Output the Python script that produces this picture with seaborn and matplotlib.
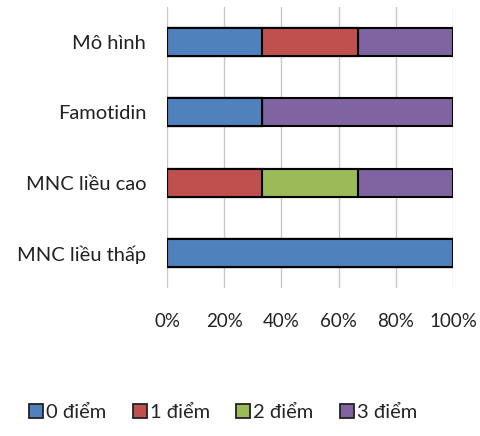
import matplotlib
matplotlib.use("Agg")
import matplotlib.pyplot as plt
import seaborn as sns
import pandas as pd
import numpy as np
from matplotlib.patches import Patch

groups = ["Mô hình", "Famotidin", "MNC liều cao", "MNC liều thấp"]
series = ["0 điểm", "1 điểm", "2 điểm", "3 điểm"]
score0 = [33.33, 33.33, 0.0, 100.0]
score1 = [33.33, 0.0, 33.33, 0.0]
score2 = [0.0, 0.0, 33.33, 0.0]
score3 = [33.34, 66.67, 33.34, 0.0]
colors = ["#4F81BD", "#C0504D", "#9BBB59", "#8064A2"]
xticklabels = ["0%", "20%", "40%", "60%", "80%", "100%"]

sns.set_theme(style="white")
plt.rcParams["font.family"] = ["Lato", "DejaVu Sans"]

fig = plt.figure(figsize=(4.8, 4.36), dpi=100)
ax = fig.add_axes([0.348, 0.339, 0.596, 0.645])

vals = np.array([score0, score1, score2, score3])
cum = np.cumsum(vals, axis=0)

# draw cumulative totals from the last segment back to the first so they stack
for i in range(len(series) - 1, -1, -1):
    df = pd.DataFrame({"group": groups, "value": cum[i]})
    sns.barplot(data=df, y="group", x="value", orient="h", color=colors[i],
                width=0.4, edgecolor="black", linewidth=1.5, saturation=1,
                ax=ax, zorder=3)

ax.set_xlim(0, 100)
ax.set_ylim(3.5, -0.5)
ax.set_xticks(np.arange(0, 101, 20))
ax.set_xticklabels(xticklabels)
ax.set_xlabel("")
ax.set_ylabel("")
ax.grid(axis="x", color="#C8C8C8", linewidth=1.0, zorder=0)
ax.grid(axis="y", visible=False)
for s in ax.spines.values():
    s.set_visible(False)
ax.tick_params(axis="x", length=0, pad=18, labelsize=13.5, labelcolor="#222222")
ax.tick_params(axis="y", length=0, pad=15, labelsize=14.5, labelcolor="#222222")

handles = [Patch(facecolor=c, edgecolor="#222222", linewidth=1.3, label=s)
           for c, s in zip(colors, series)]
fig.legend(handles=handles, loc="center", bbox_to_anchor=(0.465, 0.053), ncol=4,
           frameon=False, fontsize=14.5, handlelength=0.7, handleheight=0.7,
           handletextpad=0.15, columnspacing=1.3)

fig.savefig("out.png", dpi=100)
